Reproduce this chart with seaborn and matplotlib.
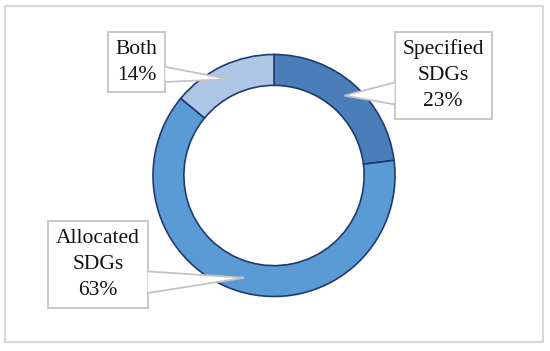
import numpy as np
import matplotlib.pyplot as plt
from matplotlib.patches import Polygon
import seaborn as sns

# chart data (order = clockwise from 12 o'clock)
categories = ["Specified\nSDGs", "Allocated\nSDGs", "Both"]
shares = [23, 63, 14]
colors = ["#4a7eb8", "#5b9bd5", "#adc6e6"]

# where each callout box sits (pixel centres in the 550x351 picture)
label_px = [(443, 75.5), (98, 264.5), (136.5, 62)]

sns.set_theme(style="white")
plt.rcParams["font.family"] = ["Liberation Serif", "DejaVu Serif"]

W, H = 550, 351
fig = plt.figure(figsize=(W / 100, H / 100), dpi=100)
ax = fig.add_axes([0, 0, 1, 1])

cx, cy, R = 274, 175.5, 121  # donut centre / radius in pixels


def to_data(px, py):
    return (px - cx) / R, (cy - py) / R


wedges, _ = ax.pie(shares, colors=colors, startangle=90, counterclock=False,
                   radius=1, wedgeprops=dict(width=0.255, edgecolor="#1f3a70",
                                             linewidth=1.2))

ax.set_xlim(to_data(0, 0)[0], to_data(W, 0)[0])
ax.set_ylim(to_data(0, H)[1], to_data(0, 0)[1])
ax.set_aspect("auto")
ax.axis("off")

texts = []
for cat, val, (lx, ly) in zip(categories, shares, label_px):
    t = ax.text(*to_data(lx, ly), f"{cat}\n{val}%", ha="center", va="center",
                fontsize=15.5, linespacing=1.5, color="#111111", zorder=3,
                bbox=dict(boxstyle="square,pad=0.36", fc="white",
                          ec="#c4c4c4", lw=1.3))
    texts.append(t)

fig.canvas.draw()
inv = ax.transData.inverted()
for w, t in zip(wedges, texts):
    ang = np.deg2rad((w.theta1 + w.theta2) / 2)
    tip = np.array([0.88 * np.cos(ang), 0.88 * np.sin(ang)])
    ext = t.get_bbox_patch().get_window_extent()
    (x0, y0), (x1, y1) = inv.transform([[ext.x0, ext.y0], [ext.x1, ext.y1]])
    side = x1 if tip[0] > x1 else x0
    # pointer base spans roughly 58%-83% down the box edge
    b1 = (side, y1 - 0.58 * (y1 - y0))
    b2 = (side, y1 - 0.83 * (y1 - y0))
    ax.add_patch(Polygon([b1, tip, b2], closed=True, fc="white", ec="none",
                         zorder=4))
    ax.plot([b1[0], tip[0], b2[0]], [b1[1], tip[1], b2[1]], color="#c4c4c4",
            lw=1.3, zorder=5, solid_joinstyle="miter")

# light grey frame round the chart area
fig.patches.append(plt.Rectangle((5 / W, 1 - 342 / H), 538 / W, 336 / H,
                                 transform=fig.transFigure, fill=False,
                                 ec="#d9d9d9", lw=1.5))

fig.savefig("out.png", dpi=100)
